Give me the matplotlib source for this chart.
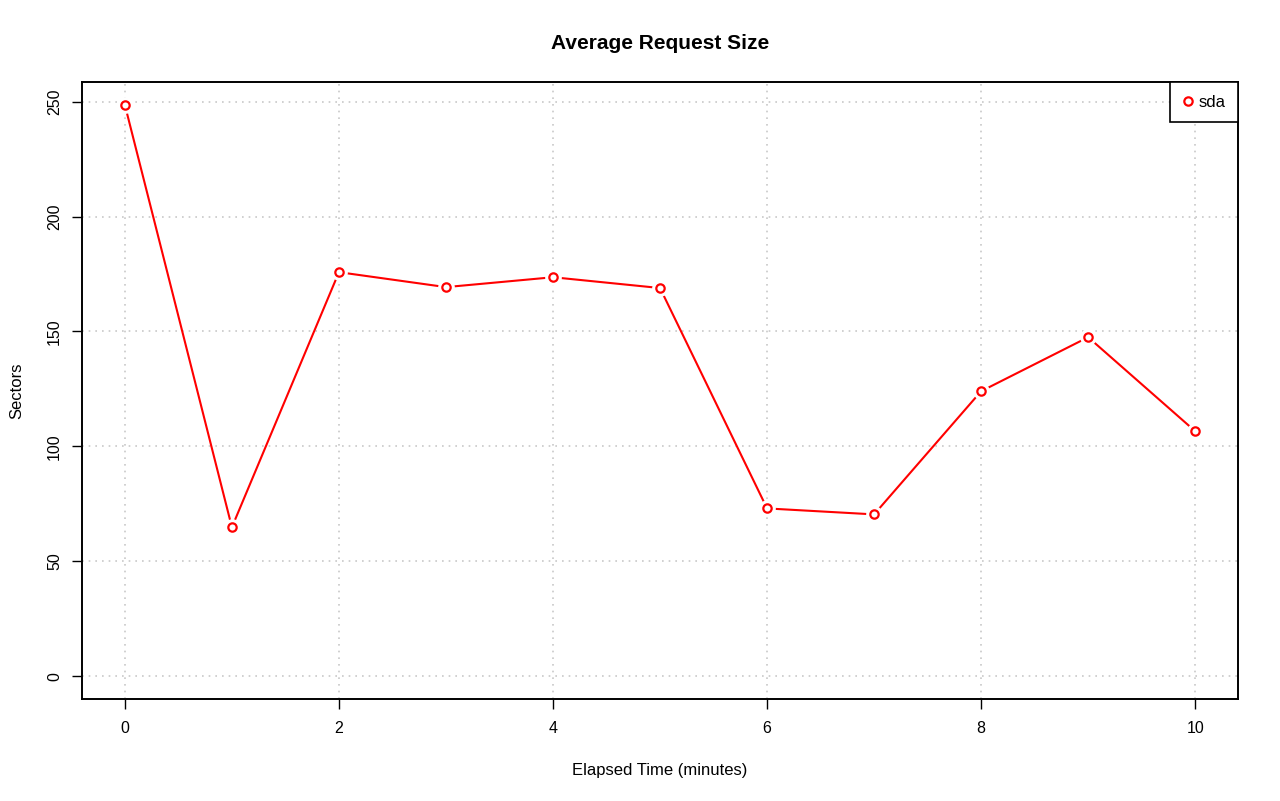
import matplotlib.pyplot as plt
import numpy as np

plt.rcParams['font.family'] = ['Liberation Sans', 'DejaVu Sans']

# Average request size per minute (sectors)
minutes = [0, 1, 2, 3, 4, 5, 6, 7, 8, 9, 10]
sda = [248.6, 64.8, 175.8, 169.3, 173.6, 168.9, 73.0, 70.4, 124.0, 147.5, 106.6]
x_ticks = [0, 2, 4, 6, 8, 10]
y_ticks = [0, 50, 100, 150, 200, 250]

fig = plt.figure(figsize=(12.8, 8.01), dpi=100)
ax = fig.add_axes([0.0641, 0.1273, 0.9031, 0.7703])

# R style type="b": line with gaps around the points
ax.plot(minutes, sda, color='red', linewidth=1.5, zorder=3)
ax.plot(minutes, sda, linestyle='none', marker='o', markersize=11,
        markerfacecolor='white', markeredgecolor='white', zorder=4)
ax.plot(minutes, sda, linestyle='none', marker='o', markersize=6,
        markerfacecolor='white', markeredgecolor='red', markeredgewidth=1.6,
        zorder=5, label='sda')

xr = max(minutes) - min(minutes)
ax.set_xlim(min(minutes) - 0.04 * xr, max(minutes) + 0.04 * xr)
yr = max(sda) - 0
ax.set_ylim(0 - 0.04 * yr, max(sda) + 0.04 * yr)

ax.set_xticks(x_ticks)
ax.set_yticks(y_ticks)
ax.tick_params(direction='out', length=7, width=1, labelsize=11.5, pad=9)
ax.tick_params(axis='y', pad=7.5)
for lab in ax.get_yticklabels():
    lab.set_rotation(90)
    lab.set_va('center')

ax.grid(True, color='#c8c8c8', linestyle=(0, (1, 3)), linewidth=1.2)
for s in ax.spines.values():
    s.set_linewidth(1.4)

ax.set_title('Average Request Size', fontsize=15, fontweight='bold', pad=24)
ax.set_xlabel('Elapsed Time (minutes)', fontsize=12, labelpad=19)
ax.set_ylabel('Sectors', fontsize=12, labelpad=16)

leg = ax.legend(loc='upper right', borderaxespad=0, fancybox=False,
                framealpha=1, edgecolor='black', fontsize=12,
                handlelength=0.6, handletextpad=0.35, borderpad=0.75)
leg.get_frame().set_linewidth(1.2)

fig.savefig('out.png', dpi=100)
